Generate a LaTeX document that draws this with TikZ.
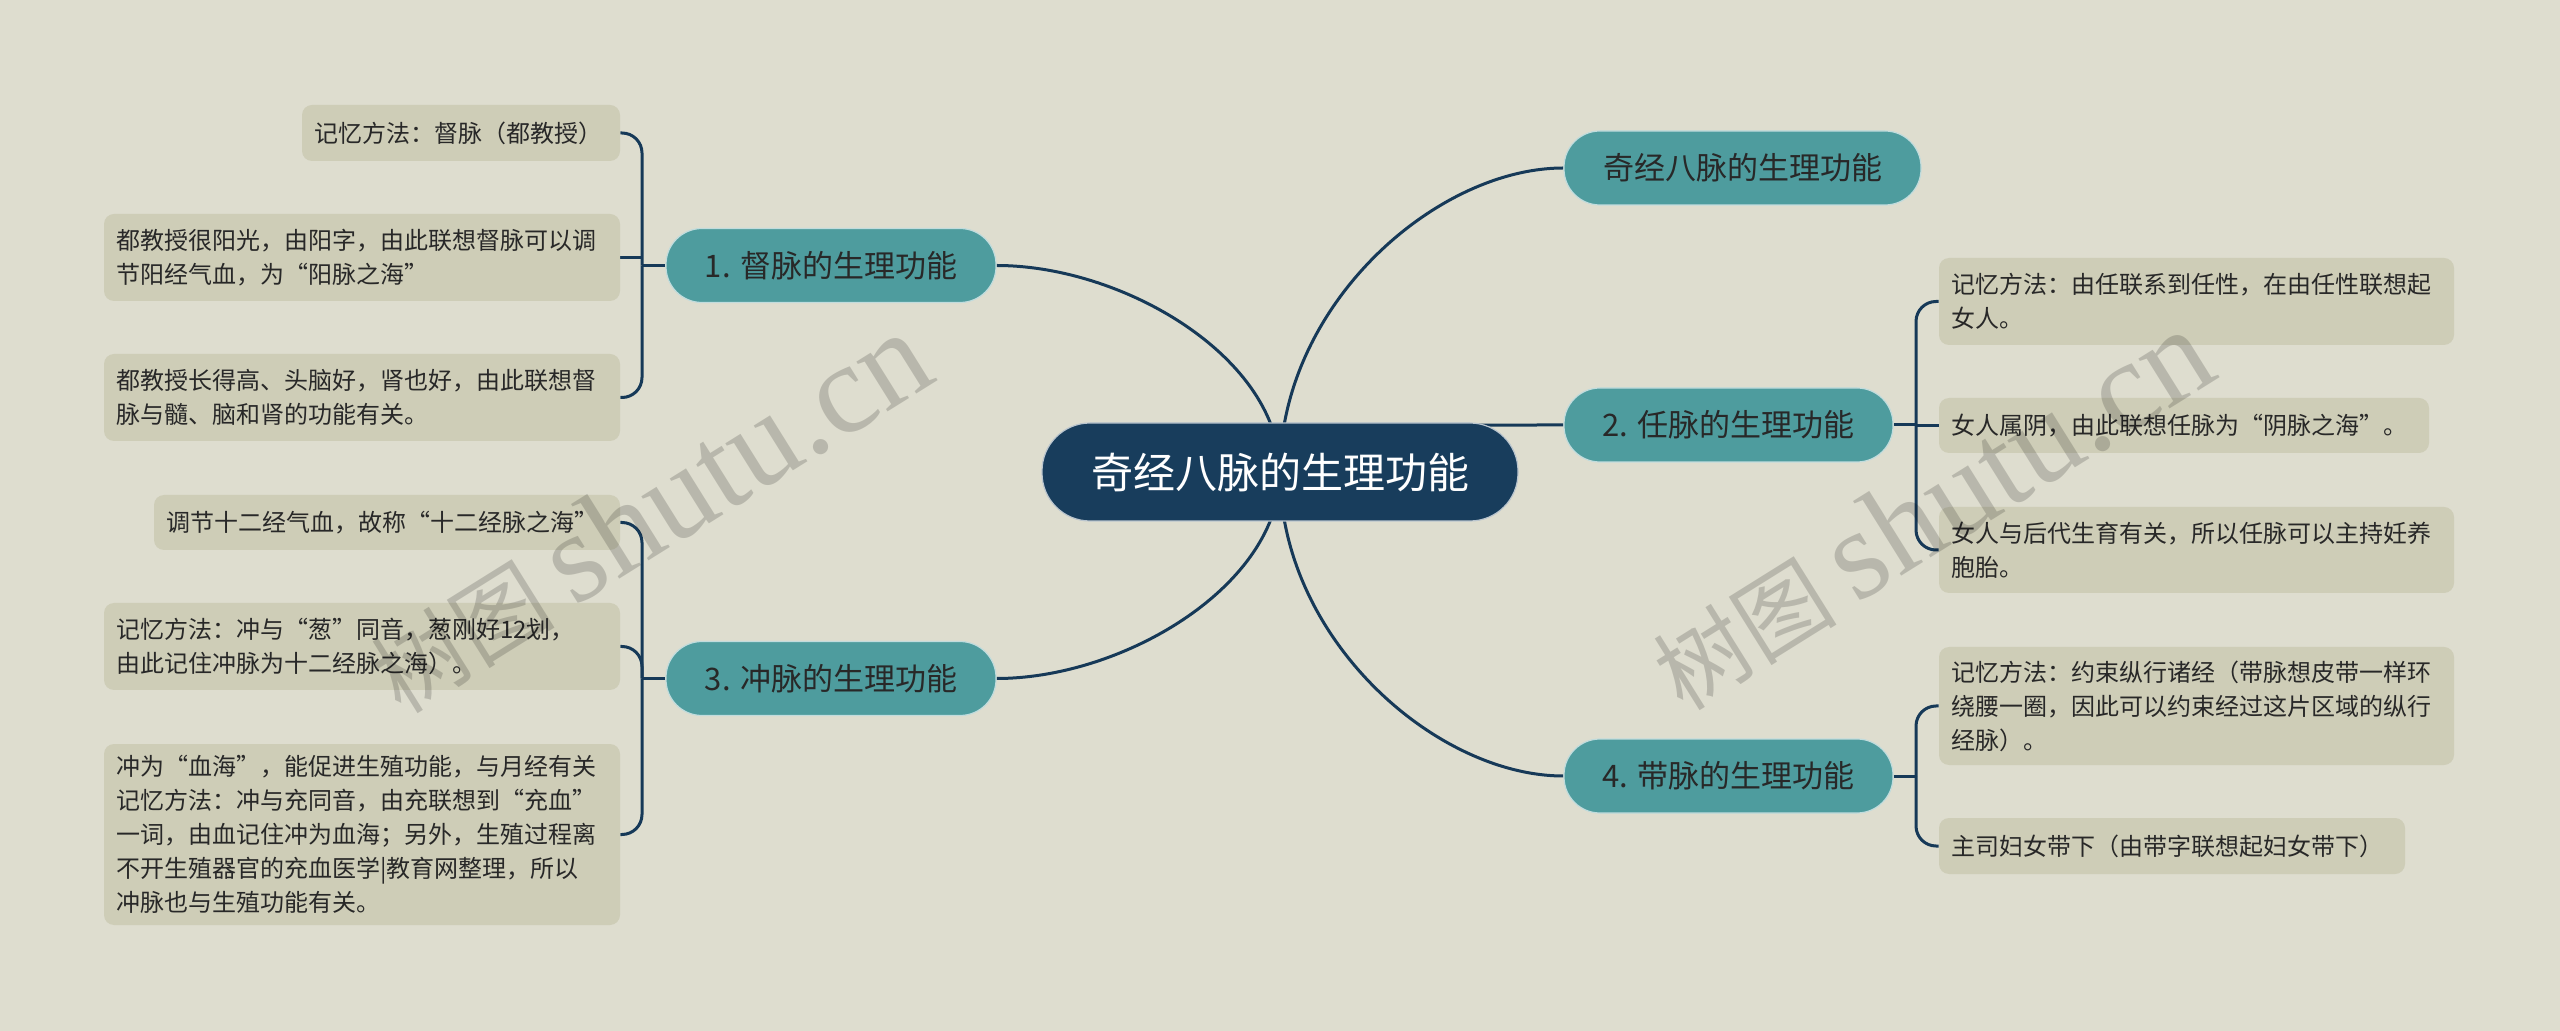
\documentclass[tikz,border=0pt]{standalone}
\usepackage{fontspec}
\setmainfont{Noto Sans CJK SC}
\newfontfamily\wmserif{Liberation Serif}
\definecolor{bgc}{RGB}{222,221,207}
\definecolor{leafc}{RGB}{206,205,183}
\definecolor{tealc}{RGB}{78,156,158}
\definecolor{rootc}{RGB}{24,61,92}
\definecolor{linec}{RGB}{22,57,88}
\definecolor{txtc}{RGB}{40,40,40}
\pgfdeclarelayer{bglayer}
\pgfdeclarelayer{linelayer}
\pgfsetlayers{bglayer,linelayer,main}
\begin{document}
\begin{tikzpicture}[x=0.5pt,y=-0.5pt,
  leaf/.style n args={3}{fill=leafc, rounded corners=5pt, inner xsep=6pt, inner ysep=0pt,
     align=left, text=txtc, font=\fontsize{12}{17}\selectfont,
     minimum width=#1, text width=#2, minimum height=#3},
  branch/.style={fill=tealc, draw=white!65!tealc, line width=0.6pt, rounded corners=18pt,
     minimum width=#1, minimum height=37pt, inner sep=0pt, text=txtc,
     font=\fontsize{15.5}{18}\selectfont},
  rootnode/.style={fill=rootc, draw=white!70!rootc, line width=0.6pt, rounded corners=24pt,
     minimum width=238pt, minimum height=49pt, inner sep=0pt, text=white,
     font=\fontsize{21}{24}\selectfont},
  conn/.style={draw=linec, line width=1.5pt},
  bracket/.style={conn, rounded corners=10pt},
  watermark/.style={rotate=32, text=black, text opacity=0.17, inner sep=0pt}
]
\begin{pgfonlayer}{bglayer}
\fill[bgc] (0,0) rectangle (2560,1031);
\end{pgfonlayer}
\useasboundingbox (0,0) rectangle (2560,1031);

% central and main branches
\node[rootnode] (root) at (1280,472) {奇经八脉的生理功能};
\node[branch=178.5pt] (t0) at (1742.5,168) {奇经八脉的生理功能};
\node[branch=164.5pt] (n2) at (1728.5,425) {2. 任脉的生理功能};
\node[branch=164.5pt] (n4) at (1728.5,776) {4. 带脉的生理功能};
\node[branch=165pt] (n1) at (831,265.5) {1. 督脉的生理功能};
\node[branch=165pt] (n3) at (831,678.5) {3. 冲脉的生理功能};

% left leaves
\node[leaf={159pt}{147pt}{28pt}] (l1a) at (461,133) {记忆方法：督脉（都教授）};
\node[leaf={258pt}{246pt}{43.5pt}] (l1b) at (362,257.5) {都教授很阳光，由阳字，由此联想督脉可以调\\节阳经气血，为“阳脉之海”};
\node[leaf={258pt}{246pt}{43.5pt}] (l1c) at (362,397.5) {都教授长得高、头脑好，肾也好，由此联想督\\脉与髓、脑和肾的功能有关。};
\node[leaf={233pt}{221pt}{27.5pt}] (l3a) at (387,522.5) {调节十二经气血，故称“十二经脉之海”};
\node[leaf={258pt}{246pt}{43.5pt}] (l3b) at (362,646.5) {记忆方法：冲与“葱”同音，葱刚好12划，\\由此记住冲脉为十二经脉之海）。};
\node[leaf={258pt}{246pt}{90.5pt}] (l3c) at (362,834.5) {冲为“血海”，能促进生殖功能，与月经有关\\记忆方法：冲与充同音，由充联想到“充血”\\一词，由血记住冲为血海；另外，生殖过程离\\不开生殖器官的充血医学|教育网整理，所以\\冲脉也与生殖功能有关。};

% right leaves
\node[leaf={257.5pt}{245.5pt}{43.5pt}] (r2a) at (2196.5,301.5) {记忆方法：由任联系到任性，在由任性联想起\\女人。};
\node[leaf={245pt}{233pt}{27.5pt}] (r2b) at (2184,425.5) {女人属阴，由此联想任脉为“阴脉之海”。};
\node[leaf={257.5pt}{245.5pt}{43pt}] (r2c) at (2196.5,550) {女人与后代生育有关，所以任脉可以主持妊养\\胞胎。};
\node[leaf={257.5pt}{245.5pt}{59pt}] (r4a) at (2196.5,706) {记忆方法：约束纵行诸经（带脉想皮带一样环\\绕腰一圈，因此可以约束经过这片区域的纵行\\经脉）。};
\node[leaf={233pt}{221pt}{28pt}] (r4b) at (2172,846) {主司妇女带下（由带字联想起妇女带下）};

% junction points of the brackets
\coordinate (j1) at (642,265.5);
\coordinate (j3) at (642,678.5);
\coordinate (j2) at (1916,425);
\coordinate (j4) at (1916,776);

\begin{pgfonlayer}{linelayer}
% root connectors
\draw[conn] (root.center) .. controls (1280,358) and (1124,265.5) .. (n1.east);
\draw[conn] (root.center) .. controls (1280,585) and (1124,678.5) .. (n3.east);
\draw[conn] (root.center) .. controls (1280,305) and (1436,168) .. (t0.west);
\draw[conn] (root.center) .. controls (1280,425) and (1340,425) .. (n2.west);
\draw[conn] (root.center) .. controls (1280,639) and (1436,776) .. (n4.west);
% bracket 1
\draw[conn] (n1.west) -- (j1);
\draw[bracket] (j1) |- (l1a.east);
\draw[conn] (l1b.east) -- (l1b.east -| j1);
\draw[bracket] (j1) |- (l1c.east);
% bracket 3
\draw[conn] (n3.west) -- (j3);
\draw[bracket] (j3) |- (l3a.east);
\draw[bracket] (j3) |- (l3b.east);
\draw[bracket] (j3) |- (l3c.east);
% bracket 2
\draw[conn] (n2.east) -- (j2);
\draw[bracket] (j2) |- (r2a.west);
\draw[conn] (r2b.west) -- (r2b.west -| j2);
\draw[bracket] (j2) |- (r2c.west);
% bracket 4
\draw[conn] (n4.east) -- (j4);
\draw[bracket] (j4) |- (r4a.west);
\draw[bracket] (j4) |- (r4b.west);
\end{pgfonlayer}

% watermarks
\node[watermark] (wm1) at (649,513) {\fontsize{46}{50}\selectfont 树图 {\wmserif\fontsize{64}{66}\selectfont shutu.cn}};
\node[watermark] (wm2) at (1931,510) {\fontsize{46}{50}\selectfont 树图 {\wmserif\fontsize{64}{66}\selectfont shutu.cn}};
\end{tikzpicture}
\end{document}
